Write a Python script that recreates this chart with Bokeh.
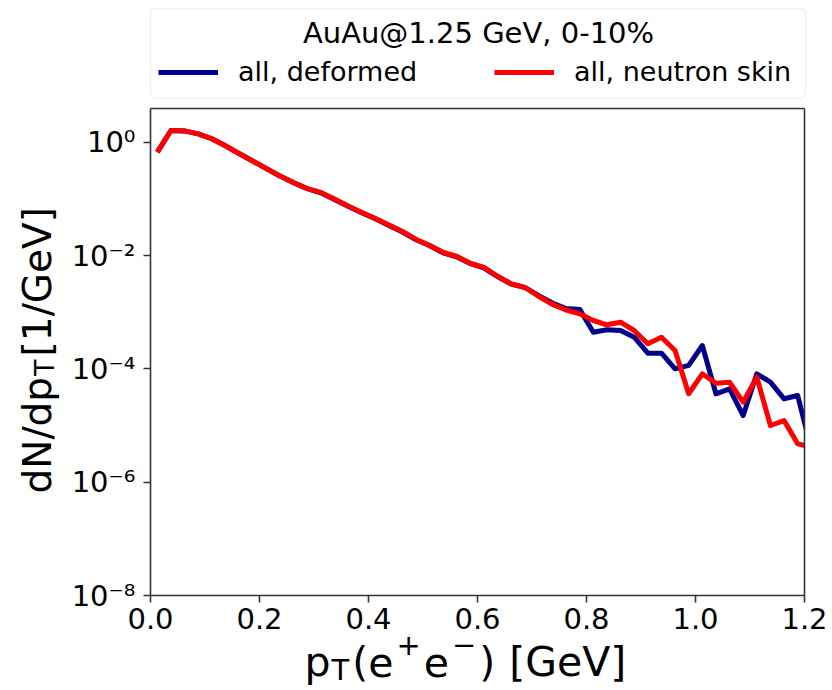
import math

from bokeh.embed import file_html
from bokeh.models import (BoxAnnotation, FixedTicker, Label, Legend, LegendItem,
                          LinearAxis, LogAxis, Range1d)
from bokeh.plotting import figure
from bokeh.resources import INLINE

# pair transverse momentum bin centres [GeV]
pt = [0.0125, 0.0375, 0.0625, 0.0875, 0.1125, 0.1375, 0.1625, 0.1875, 0.2125, 0.2375,
      0.2625, 0.2875, 0.3125, 0.3375, 0.3625, 0.3875, 0.4125, 0.4375, 0.4625, 0.4875,
      0.5125, 0.5375, 0.5625, 0.5875, 0.6125, 0.6375, 0.6625, 0.6875, 0.7125, 0.7375,
      0.7625, 0.7875, 0.8125, 0.8375, 0.8625, 0.8875, 0.9125, 0.9375, 0.9625, 0.9875,
      1.0125, 1.0375, 1.0625, 1.0875, 1.1125, 1.1375, 1.1625, 1.1875, 1.2125]

# dN/dpT [1/GeV], deformed nucleus
dndpt_deformed = [0.666, 1.61, 1.58, 1.40, 1.15, 0.862, 0.630, 0.465, 0.342, 0.252,
                  0.193, 0.151, 0.128, 0.097, 0.0740, 0.0568, 0.0447, 0.0340, 0.0259, 0.0190,
                  0.0149, 0.0111, 0.00940, 0.00718, 0.00600, 0.00421, 0.00312, 0.00271, 0.00196, 0.00145,
                  0.00116, 0.00112, 0.000443, 0.000489, 0.000475, 0.000362, 0.000189, 0.000189, 0.000100, 0.000115,
                  0.000258, 3.63e-5, 4.44e-5, 1.50e-5, 8.18e-5, 5.81e-5, 2.96e-5, 3.38e-5, 3.77e-6]

# dN/dpT [1/GeV], nucleus with neutron skin
dndpt_skin = [0.666, 1.61, 1.58, 1.40, 1.15, 0.864, 0.632, 0.466, 0.343, 0.253,
              0.194, 0.152, 0.130, 0.0994, 0.0748, 0.0574, 0.0450, 0.0346, 0.0266, 0.0192,
              0.0150, 0.0113, 0.00961, 0.00723, 0.00614, 0.00426, 0.00314, 0.00273, 0.00189, 0.00137,
              0.001093, 0.000936, 0.000713, 0.000599, 0.000666, 0.000475, 0.000277, 0.000362, 0.000211, 3.63e-5,
              8.18e-5, 5.58e-5, 5.81e-5, 2.58e-5, 7.12e-5, 1.00e-5, 1.22e-5, 4.75e-6, 4.18e-6]

series_labels = ["all, deformed", "all, neutron skin"]
legend_title = "AuAu@1.25 GeV, 0-10%"

x_limits = (0.0, 1.2)
y_limits = (1e-8, 3.93)
x_tick_values = [0.0, 0.2, 0.4, 0.6, 0.8, 1.0, 1.2]
x_tick_labels = ["0.0", "0.2", "0.4", "0.6", "0.8", "1.0", "1.2"]
y_tick_values = [1e-8, 1e-6, 1e-4, 1e-2, 1.0]
y_tick_labels = ["10\u207b\u2078", "10\u207b\u2076", "10\u207b\u2074", "10\u207b\u00b2", "10\u2070"]

FONT = "DejaVu Sans"
BLUE = "#00008b"
RED = "#ff0000"
SPINE = "#333333"

# canvas size and where the axes box sits on it (pixels from the top-left)
W, H = 832, 690
BOX_L, BOX_R, BOX_T, BOX_B = 150, 804, 108, 595

# the frame spans the whole canvas; extend the ranges so the axes box lands on BOX_*
xs = (x_limits[1] - x_limits[0]) / (BOX_R - BOX_L)
x_range = Range1d(x_limits[0] - BOX_L * xs, x_limits[1] + (W - BOX_R) * xs)
lo, hi = math.log10(y_limits[0]), math.log10(y_limits[1])
ys = (hi - lo) / (BOX_B - BOX_T)
y_range = Range1d(10 ** (lo - (H - BOX_B) * ys), 10 ** (hi + BOX_T * ys))

p = figure(
    width=W, height=H, x_range=x_range, y_range=y_range, y_axis_type="log",
    x_axis_location=None, y_axis_location=None,
    output_backend="svg", toolbar_location=None,
    min_border=0, min_border_left=0, min_border_right=0, min_border_top=0, min_border_bottom=0,
)
p.background_fill_color = "white"
p.border_fill_color = "white"
p.outline_line_color = None
p.grid.visible = False


def style_axis(ax):
    ax.axis_line_color = SPINE
    ax.axis_line_width = 1.6
    ax.major_tick_line_color = SPINE
    ax.major_tick_line_width = 1.6
    ax.major_tick_out = 7
    ax.major_tick_in = 0
    ax.minor_tick_line_color = None
    ax.major_label_text_font = FONT
    ax.major_label_text_font_size = "29px"
    ax.major_label_text_color = "black"


xaxis = LinearAxis(fixed_location=y_limits[0], bounds=x_limits,
                   ticker=FixedTicker(ticks=x_tick_values),
                   major_label_overrides=dict(zip(x_tick_values, x_tick_labels)),
                   major_label_standoff=5)
yaxis = LogAxis(fixed_location=x_limits[0], bounds=y_limits,
                ticker=FixedTicker(ticks=y_tick_values, minor_ticks=[]),
                major_label_overrides=dict(zip(y_tick_values, y_tick_labels)),
                major_label_standoff=8)
top_spine = LinearAxis(fixed_location=y_limits[1], bounds=x_limits, ticker=FixedTicker(ticks=[]))
right_spine = LogAxis(fixed_location=x_limits[1], bounds=y_limits, ticker=FixedTicker(ticks=[]))
for ax in (xaxis, yaxis, top_spine, right_spine):
    style_axis(ax)
p.add_layout(xaxis, "below")
p.add_layout(yaxis, "left")
p.add_layout(top_spine, "above")
p.add_layout(right_spine, "right")

r_def = p.line(pt, dndpt_deformed, line_color=BLUE, line_width=5, line_join="round")
r_skin = p.line(pt, dndpt_skin, line_color=RED, line_width=5, line_join="round")
# blank the strip right of the axes box so the curves stop at the spine
p.quad(left=[x_limits[1]], right=[x_range.end], bottom=[y_range.start], top=[y_range.end],
       fill_color="white", line_color=None)


def sy(y_top):
    """canvas y measured from the top -> screen y measured from the bottom"""
    return H - y_top


# legend frame above the axes box
p.add_layout(BoxAnnotation(
    left=BOX_L, right=BOX_R + 1, top=sy(8), bottom=sy(98),
    left_units="screen", right_units="screen", top_units="screen", bottom_units="screen",
    fill_color="white", fill_alpha=1.0, line_color="#cccccc", line_width=1.5,
    border_radius=5,
))
p.add_layout(Label(
    x=(BOX_L + BOX_R) / 2 + 1, y=sy(32), x_units="screen", y_units="screen", text=legend_title,
    text_font=FONT, text_font_size="29px", text_align="center", text_baseline="middle",
    text_color="black",
))
legend = Legend(
    items=[LegendItem(label=series_labels[0], renderers=[r_def]),
           LegendItem(label=series_labels[1], renderers=[r_skin])],
    orientation="horizontal", location=(158, sy(72) - 15),
    padding=0, margin=0, spacing=35,
    glyph_width=60, glyph_height=30, label_width=221, label_height=30, label_standoff=20,
    label_text_font=FONT, label_text_font_size="27px", label_text_color="black",
    border_line_color=None, background_fill_alpha=0.0,
)
p.add_layout(legend)

# axis titles built from runs so that sub/superscripts sit at their own size
ADV = {'p': 0.635, 'T': 0.611, '(': 0.390, ')': 0.390, 'e': 0.615, '+': 0.838, '\u2212': 0.838,
       ' ': 0.318, '[': 0.390, ']': 0.390, 'G': 0.775, 'V': 0.684, 'd': 0.635, 'N': 0.748,
       '/': 0.337, '1': 0.636}


def place_runs(runs, x0, y0, angle=0.0):
    c, s = math.cos(angle), math.sin(angle)
    along = 0.0
    for text, size, shift, gap in runs:
        along += gap
        x = x0 + along * c - shift * s
        y = y0 + along * s + shift * c
        p.add_layout(Label(
            x=x, y=y, x_units="screen", y_units="screen", text=text, angle=angle,
            text_font=FONT, text_font_size=f"{size}px", text_align="left",
            text_baseline="alphabetic", text_color="black",
        ))
        along += sum(ADV[ch] for ch in text) * size


place_runs([("p", 41, 0, 0), ("T", 29, -8, 1), ("(", 41, 0, 3), ("e", 41, 0, 0),
            ("+", 29, 17, 3), ("e", 41, 0, 3), ("\u2212", 29, 17, 3), (")", 41, 0, 3),
            ("[GeV]", 41, 0, 14)],
           304, sy(661))
place_runs([("dN/dp", 39, 0, 0), ("T", 27, -7, 1), ("[1/GeV]", 39, 0, 3)],
           37, sy(493), angle=math.pi / 2)

open("out.html", "w").write(file_html(p, INLINE))
